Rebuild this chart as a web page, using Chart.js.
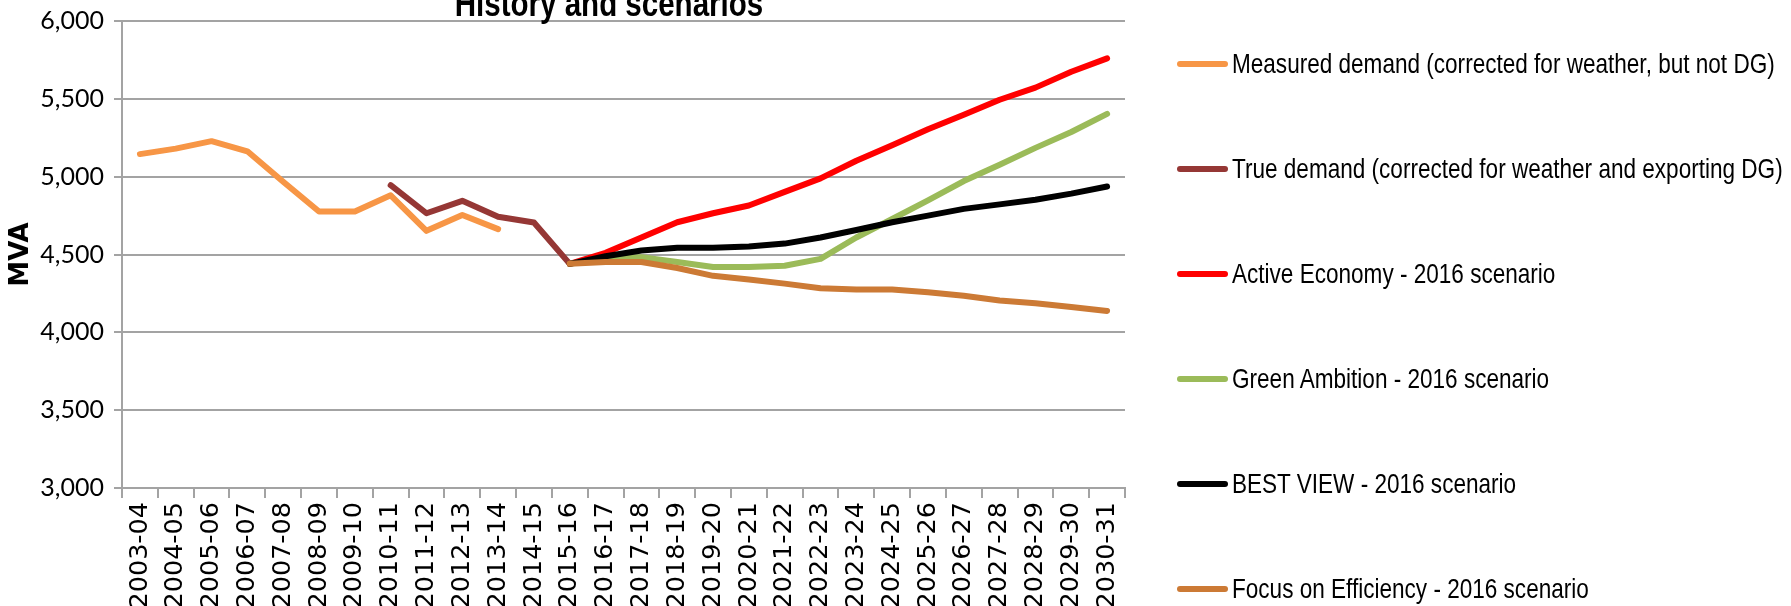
<!DOCTYPE html>
<html>
<head>
<meta charset="utf-8">
<script src="https://cdn.jsdelivr.net/npm/chart.js@4"></script>
<style>
  html, body { margin: 0; padding: 0; background: #fff; overflow: hidden; }
  #wrap { position: relative; width: 1791px; height: 606px; overflow: hidden; }
  #chart { position: absolute; left: 0; top: -4px; }
  #title {
    position: absolute; left: 409px; width: 400px; top: -14px;
    text-align: center; font: bold 36px "Liberation Sans", sans-serif;
    line-height: 1; color: #000; white-space: nowrap;
    transform: scaleX(0.82); transform-origin: 50% 0;
  }
  #legend { position: absolute; left: 1177px; top: 11px; }
  .legend-row { height: 105px; display: flex; align-items: center; }
  .legend-line { width: 51px; height: 6px; border-radius: 3px; margin-right: 4px; flex: none; }
  .legend-text {
    font: 27.5px "Liberation Sans", sans-serif; color: #000; line-height: 1; white-space: nowrap;
    transform: scaleX(0.82); transform-origin: 0 50%;
  }
</style>
</head>
<body>
<div id="wrap">
  <canvas id="chart" width="1791" height="613"></canvas>
  <div id="title">History and scenarios</div>
  <div id="legend"></div>
</div>
<script>
// financial years on the x axis
const years = [
  "2003-04", "2004-05", "2005-06", "2006-07", "2007-08", "2008-09", "2009-10",
  "2010-11", "2011-12", "2012-13", "2013-14", "2014-15", "2015-16", "2016-17",
  "2017-18", "2018-19", "2019-20", "2020-21", "2021-22", "2022-23", "2023-24",
  "2024-25", "2025-26", "2026-27", "2027-28", "2028-29", "2029-30", "2030-31"
];

const yTicks = [3000, 3500, 4000, 4500, 5000, 5500, 6000];

// MVA values
const measuredDemand = [5145, 5180, 5228, 5163, 4967, 4776, 4776, 4880, 4652, 4754, 4663,
  null, null, null, null, null, null, null, null, null, null, null, null, null, null, null, null, null];

const trueDemand = [null, null, null, null, null, null, null,
  4945, 4765, 4845, 4743, 4706, 4440,
  null, null, null, null, null, null, null, null, null, null, null, null, null, null, null];

const activeEconomy = [null, null, null, null, null, null, null, null, null, null, null, null,
  4440, 4511, 4609, 4707, 4765, 4815, 4902, 4989, 5102, 5202, 5304, 5398, 5494, 5572, 5674, 5760];

const greenAmbition = [null, null, null, null, null, null, null, null, null, null, null, null,
  4440, 4475, 4483, 4452, 4420, 4420, 4428, 4472, 4609, 4728, 4848, 4972, 5076, 5185, 5287, 5403];

const bestView = [null, null, null, null, null, null, null, null, null, null, null, null,
  4440, 4489, 4526, 4543, 4543, 4552, 4570, 4609, 4657, 4707, 4750, 4793, 4822, 4852, 4891, 4937];

const focusEfficiency = [null, null, null, null, null, null, null, null, null, null, null, null,
  4440, 4452, 4452, 4413, 4363, 4340, 4313, 4283, 4275, 4275, 4257, 4235, 4205, 4187, 4163, 4137];

const seriesNames = [
  "Measured demand (corrected for weather, but not DG)",
  "True demand (corrected for weather and exporting DG)",
  "Active Economy - 2016 scenario",
  "Green Ambition - 2016 scenario",
  "BEST VIEW - 2016 scenario",
  "Focus on Efficiency - 2016 scenario"
];
const seriesData = [measuredDemand, trueDemand, activeEconomy, greenAmbition, bestView, focusEfficiency];
const seriesColors = ["#F79646", "#953735", "#FF0000", "#9BBB59", "#000000", "#CC7A35"];

const gridGray = "#a3a3a3";

const datasets = seriesNames.map((name, i) => ({
  label: name,
  data: seriesData[i],
  borderColor: seriesColors[i],
  backgroundColor: seriesColors[i],
  borderWidth: 6,
  pointRadius: 0,
  pointHoverRadius: 0,
  tension: 0,
  fill: false,
  spanGaps: false,
  borderCapStyle: "round",
  borderJoinStyle: "round",
  order: seriesNames.length - i   // later series drawn on top, like the original
}));

new Chart(document.getElementById("chart"), {
  type: "line",
  data: { labels: years, datasets },
  options: {
    responsive: false,
    animation: false,
    devicePixelRatio: 1,
    layout: { padding: { top: 13, right: 666, left: 0, bottom: 0 } },
    plugins: {
      legend: { display: false },
      tooltip: { enabled: false },
      title: { display: false }
    },
    scales: {
      x: {
        offset: true,
        afterFit: (scale) => { scale.height = 121; },
        grid: {
          offset: true,
          drawOnChartArea: false,
          drawTicks: true,
          tickLength: 10,
          color: gridGray,
          lineWidth: 2
        },
        border: { display: true, color: gridGray, width: 2 },
        ticks: {
          autoSkip: false,
          minRotation: 90,
          maxRotation: 90,
          padding: 4,
          color: "#000",
          font: { family: "DejaVu Sans", size: 25.5 }
        }
      },
      y: {
        min: 3000,
        max: 6000,
        afterFit: (scale) => { scale.width = 122; },
        afterBuildTicks: (scale) => { scale.ticks = yTicks.map(v => ({ value: v })); },
        grid: {
          drawTicks: true,
          tickLength: 8,
          color: gridGray,
          lineWidth: 2
        },
        border: { display: true, color: gridGray, width: 2 },
        ticks: {
          padding: 10,
          color: "#000",
          font: { family: "Lato", size: 25 },
          callback: (v) => v.toLocaleString("en-US")
        },
        title: {
          display: true,
          text: "MVA",
          color: "#000",
          padding: { top: 6, bottom: 0 },
          font: { family: "DejaVu Sans", size: 26, weight: "bold" }
        }
      }
    }
  }
});

// legend built from the same series lists
const legend = document.getElementById("legend");
seriesNames.forEach((name, i) => {
  const row = document.createElement("div");
  row.className = "legend-row";
  row.innerHTML = `<div class="legend-line" style="background:${seriesColors[i]}"></div>
    <div class="legend-text">${name}</div>`;
  legend.appendChild(row);
});
</script>
</body>
</html>
